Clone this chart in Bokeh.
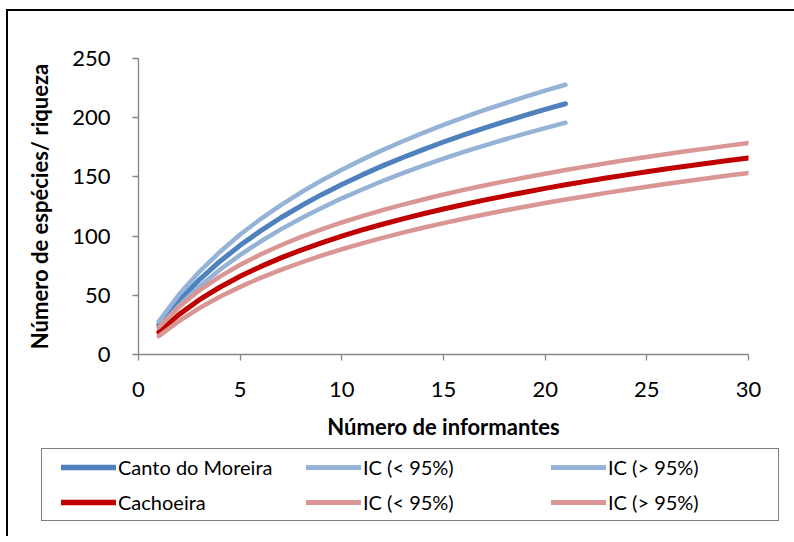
from bokeh.plotting import figure
from bokeh.models import Range1d, FixedTicker, Legend, LegendItem
from bokeh.layouts import column
from bokeh.embed import file_html
from bokeh.resources import INLINE

# ---- data ----
informantes_canto = [1, 2, 3, 4, 5, 6, 7, 8, 9, 10, 11, 12, 13, 14, 15, 16, 17, 18, 19, 20, 21]
canto = [25.0, 45.7, 63.3, 78.6, 92.2, 104.4, 115.5, 125.6, 135.0, 143.6, 151.7,
         159.3, 166.4, 173.1, 179.5, 185.5, 191.2, 196.7, 202.0, 207.0, 211.8]
canto_ic_low = [22.6, 41.3, 57.5, 71.6, 84.1, 95.4, 105.7, 115.1, 123.8, 131.9, 139.4,
                146.5, 153.2, 159.5, 165.4, 171.1, 176.5, 181.6, 186.5, 191.2, 195.8]
canto_ic_high = [28.0, 50.8, 70.0, 86.6, 101.3, 114.4, 126.2, 137.0, 146.9, 156.1, 164.6,
                 172.6, 180.1, 187.2, 193.9, 200.2, 206.3, 212.0, 217.5, 222.8, 227.8]

informantes_cach = [1, 2, 3, 4, 5, 6, 7, 8, 9, 10, 11, 12, 13, 14, 15, 16, 17, 18, 19, 20,
                    21, 22, 23, 24, 25, 26, 27, 28, 29, 30]
cach = [18.9, 33.9, 46.3, 56.8, 66.1, 74.2, 81.6, 88.2, 94.3, 100.0, 105.2, 110.0, 114.6,
        118.9, 122.9, 126.7, 130.4, 133.8, 137.1, 140.3, 143.3, 146.2, 149.0, 151.7, 154.3,
        156.8, 159.2, 161.6, 163.8, 166.0]
cach_ic_low = [15.5, 28.3, 39.2, 48.7, 57.1, 64.7, 71.5, 77.7, 83.5, 88.9, 93.8, 98.5, 102.9,
               107.0, 111.0, 114.7, 118.2, 121.6, 124.8, 127.9, 130.9, 133.7, 136.5, 139.1,
               141.7, 144.2, 146.6, 148.9, 151.1, 153.3]
cach_ic_high = [23.0, 40.3, 54.2, 65.8, 75.8, 84.5, 92.3, 99.3, 105.6, 111.5, 116.9, 121.9,
                126.6, 130.9, 135.1, 139.0, 142.7, 146.2, 149.5, 152.7, 155.8, 158.7, 161.5,
                164.2, 166.8, 169.4, 171.8, 174.1, 176.4, 178.6]

x_ticks = [0, 5, 10, 15, 20, 25, 30]
y_ticks = [0, 50, 100, 150, 200, 250]
legend_labels = ["Canto do Moreira", "IC (< 95%)", "IC (> 95%)",
                 "Cachoeira", "IC (< 95%)", "IC (> 95%)"]

FONT = "Lato"
BLUE, BLUE_L = "#4F81BD", "#95B3D7"
RED, RED_L = "#C00000", "#D99694"
AXIS_C = "#868686"

styles = [(BLUE, 5), (BLUE_L, 4.5), (BLUE_L, 4.5), (RED, 5), (RED_L, 4.5), (RED_L, 4.5)]
series = [(informantes_canto, canto), (informantes_canto, canto_ic_low),
          (informantes_canto, canto_ic_high), (informantes_cach, cach),
          (informantes_cach, cach_ic_low), (informantes_cach, cach_ic_high)]

W = 776

# ---------------- main chart ----------------
p = figure(width=W, height=433, x_range=Range1d(0, 30), y_range=Range1d(0, 250),
           output_backend="svg", toolbar_location=None,
           min_border_left=130, min_border_right=W - 740, min_border_top=47, min_border_bottom=90)
p.outline_line_color = None
p.grid.visible = False

for ax in (p.xaxis[0], p.yaxis[0]):
    ax.axis_line_color = AXIS_C
    ax.axis_line_width = 1.3
    ax.major_tick_line_color = AXIS_C
    ax.major_tick_line_width = 1.3
    ax.minor_tick_line_color = None
    ax.major_tick_in = 0
    ax.major_tick_out = 6
    ax.major_label_text_font = FONT
    ax.major_label_text_font_size = "22px"
    ax.major_label_text_color = "black"
    ax.axis_label_text_font = FONT
    ax.axis_label_text_font_size = "22px"
    ax.axis_label_text_font_style = "bold"
    ax.axis_label_text_color = "black"

p.xaxis.ticker = FixedTicker(ticks=x_ticks)
p.yaxis.ticker = FixedTicker(ticks=y_ticks)
p.xaxis.axis_label = "Número de informantes"
p.yaxis.axis_label = "Número de espécies/ riqueza"
p.xaxis.major_label_standoff = 21
p.xaxis.axis_label_standoff = 13
p.yaxis.major_label_standoff = 22
p.yaxis.axis_label_standoff = 16

for (xs, ys), (c, w) in zip(series, styles):
    p.line(xs, ys, line_color=c, line_width=w, line_cap="round", line_join="round")

# ---------------- legend panel ----------------
q = figure(width=W, height=92, x_range=Range1d(-20, -10), y_range=Range1d(-20, -10),
           output_backend="svg", toolbar_location=None,
           x_axis_location=None, y_axis_location=None,
           min_border=0, min_border_left=0, min_border_right=0,
           min_border_top=0, min_border_bottom=0)
q.outline_line_color = None
q.grid.visible = False
try:
    q.frame_align = False
except Exception:
    pass

# legend proxies (same series, outside the visible ranges of the legend panel)
proxies = [q.line(xs, ys, line_color=c, line_width=w + 0.5, line_cap="round")
           for (xs, ys), (c, w) in zip(series, styles)]
r_box = q.line(informantes_canto, canto, line_alpha=0)

box = Legend(items=[LegendItem(label=" ", renderers=[r_box])],
             location=(33, 15), padding=0, margin=0, spacing=0,
             glyph_width=10, glyph_height=71, label_width=726, label_height=71,
             label_standoff=0, border_line_color="black", border_line_width=1.5,
             background_fill_alpha=0, label_text_font_size="2px")
q.add_layout(box)

items = [LegendItem(label=lab, renderers=[r]) for lab, r in zip(legend_labels, proxies)]
leg = Legend(items=items, orientation="horizontal", ncols=3,
             location=(53, 22), padding=8, margin=0, spacing=11,
             glyph_width=55, glyph_height=20, label_height=20, label_width=177,
             label_standoff=2, border_line_color=None, background_fill_alpha=0,
             label_text_font=FONT, label_text_font_size="20px", label_text_color="black")
q.add_layout(leg)

layout = column(p, q, width=788, styles={"margin-left": "6px", "margin-top": "9px",
                                         "border-style": "solid none none solid",
                                         "border-width": "2px",
                                         "border-color": "black",
                                         "box-shadow": "none", "outline": "none"})

open("out.html", "w").write(file_html(layout, INLINE))
